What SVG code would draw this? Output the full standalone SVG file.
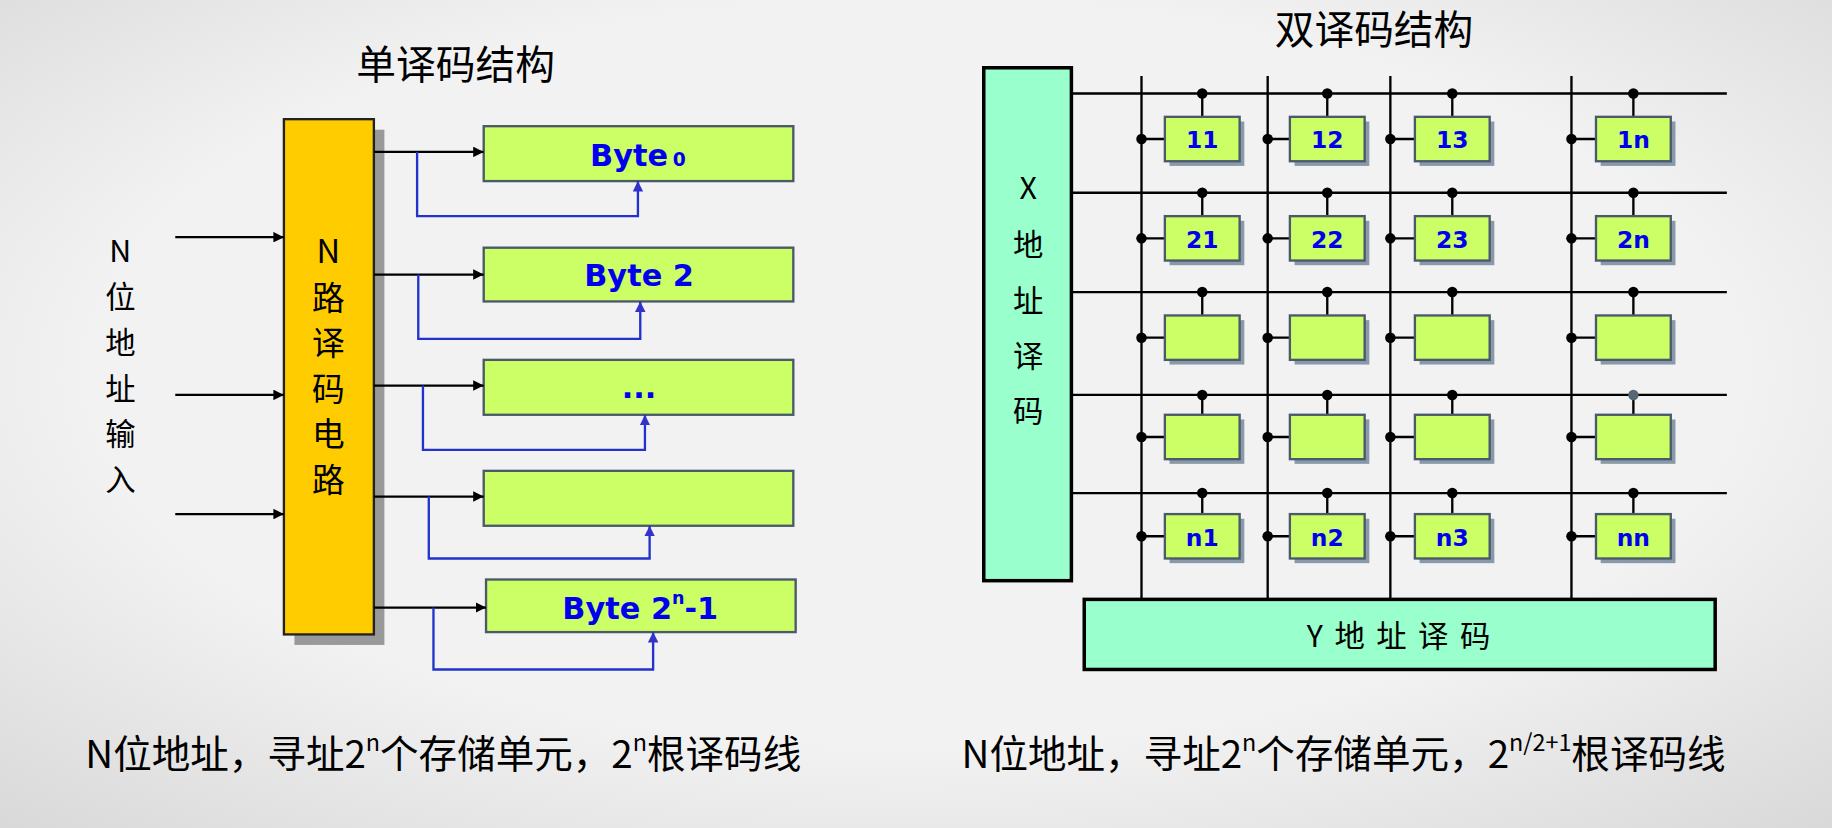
<svg xmlns="http://www.w3.org/2000/svg" width="1832" height="828" viewBox="0 0 1832 828">
<defs>
<radialGradient id="bg" cx="0.5" cy="0.45" r="0.75"><stop offset="0.6" stop-color="#f2f2f2"/><stop offset="1" stop-color="#d8d8d8"/></radialGradient>
<marker id="ab" viewBox="0 0 10 10" refX="10" refY="5" markerWidth="9" markerHeight="9" markerUnits="userSpaceOnUse" orient="auto"><path d="M0,0L10,5L0,10z" fill="#000"/></marker>
<marker id="au" viewBox="0 0 10 10" refX="10" refY="5" markerWidth="9" markerHeight="9" markerUnits="userSpaceOnUse" orient="auto"><path d="M0,0L10,5L0,10z" fill="#3333cc"/></marker>
<style>
.t{font-family:"Noto Sans CJK SC","Liberation Sans",sans-serif;fill:#000}
.b{font-family:"DejaVu Sans","Liberation Sans",sans-serif;font-weight:bold;fill:#0000ee;text-anchor:middle}
.byte{fill:#ccff66;stroke:#4a5a6a;stroke-width:2}
.cell{fill:#ccff66;stroke:#4a5a6a;stroke-width:2}
.sh{fill:#8899aa}
.k{stroke:#000;stroke-width:2;fill:none}
.bl{stroke:#2233cc;stroke-width:2;fill:none}
</style>
</defs>
<rect width="1832" height="828" fill="url(#bg)"/>
<g transform="scale(1.16837)">
<text class="t" x="390" y="68" font-size="34" text-anchor="middle">单译码结构</text>
<text class="t" x="1176" y="38" font-size="34" text-anchor="middle">双译码结构</text>
<g id="input-label" class="t" font-size="26" text-anchor="middle">
<text x="103" y="224">N</text><text x="103" y="264">位</text><text x="103" y="303">地</text><text x="103" y="342">址</text><text x="103" y="381">输</text><text x="103" y="420">入</text>
</g>
<g id="ndecoder">
<rect x="252" y="111" width="77" height="441" fill="#999"/>
<rect x="243" y="102" width="77" height="441" fill="#ffcc00" stroke="#222" stroke-width="2"/>
<g class="t" font-size="28" text-anchor="middle"><text x="281" y="225">N</text><text x="281" y="265">路</text><text x="281" y="304">译</text><text x="281" y="343">码</text><text x="281" y="382">电</text><text x="281" y="421">路</text></g>
</g>
<g id="bytes">
<rect class="byte" x="414" y="108" width="265" height="47"/>
<text class="b" x="546" y="142" font-size="26">Byte<tspan font-size="16" dx="4">0</tspan></text>
<rect class="byte" x="414" y="212" width="265" height="46"/>
<text class="b" x="547" y="245" font-size="26">Byte 2</text>
<rect class="byte" x="414" y="308" width="265" height="47"/>
<text class="b" x="547" y="341" font-size="26">...</text>
<rect class="byte" x="414" y="403" width="265" height="47"/>
<rect class="byte" x="416" y="496" width="265" height="45"/>
<text class="b" x="548" y="530" font-size="26">Byte 2<tspan font-size="15" dy="-13">n</tspan><tspan dy="13">-1</tspan></text>
</g>
<g id="connectors-left">
<path class="k" marker-end="url(#ab)" d="M150,203H243"/>
<path class="k" marker-end="url(#ab)" d="M150,338H243"/>
<path class="k" marker-end="url(#ab)" d="M150,440H243"/>
<path class="k" marker-end="url(#ab)" d="M320,130H414"/>
<path class="k" marker-end="url(#ab)" d="M320,235H414"/>
<path class="k" marker-end="url(#ab)" d="M320,330H414"/>
<path class="k" marker-end="url(#ab)" d="M320,425H414"/>
<path class="k" marker-end="url(#ab)" d="M320,520H416"/>
<path class="bl" marker-end="url(#au)" d="M357,130V185H546V155"/>
<path class="bl" marker-end="url(#au)" d="M358,235V290H548V258"/>
<path class="bl" marker-end="url(#au)" d="M362,330V385H552V355"/>
<path class="bl" marker-end="url(#au)" d="M367,425V478H556V450"/>
<path class="bl" marker-end="url(#au)" d="M371,520V573H559V541"/>
</g>
<g id="xdecoder">
<rect x="842" y="58" width="75" height="439" fill="#99ffcc" stroke="#000" stroke-width="3"/>
<g class="t" font-size="26" text-anchor="middle"><text x="880" y="170">X</text><text x="880" y="219">地</text><text x="880" y="267">址</text><text x="880" y="314">译</text><text x="880" y="361">码</text></g>
</g>
<g id="ydecoder">
<rect x="928" y="513" width="540" height="60" fill="#99ffcc" stroke="#000" stroke-width="3"/>
<text class="t" x="1198" y="554" font-size="26" text-anchor="middle" letter-spacing="2">Y 地 址 译 码</text>
</g>
<g id="grid-lines" class="k">
<path d="M917,80H1478M917,165H1478M917,250H1478M917,338H1478M917,422H1478"/>
<path d="M977,65V513M1085,65V513M1190,65V513M1345,65V513"/>
</g>
<g id="cells">
<g class="k">
<path d="M1029,80V100M1136,80V100M1243,80V100M1398,80V100"/>
<path d="M1029,165V185M1136,165V185M1243,165V185M1398,165V185"/>
<path d="M1029,250V270M1136,250V270M1243,250V270M1398,250V270"/>
<path d="M1029,338V355M1136,338V355M1243,338V355M1398,338V355"/>
<path d="M1029,422V440M1136,422V440M1243,422V440M1398,422V440"/>
<path d="M977,119H997M1085,119H1104M1190,119H1211M1345,119H1366"/>
<path d="M977,204H997M1085,204H1104M1190,204H1211M1345,204H1366"/>
<path d="M977,289H997M1085,289H1104M1190,289H1211M1345,289H1366"/>
<path d="M977,374H997M1085,374H1104M1190,374H1211M1345,374H1366"/>
<path d="M977,459H997M1085,459H1104M1190,459H1211M1345,459H1366"/>
</g>
<g fill="#000">
<circle cx="1029" cy="80" r="4.5"/><circle cx="1136" cy="80" r="4.5"/><circle cx="1243" cy="80" r="4.5"/><circle cx="1398" cy="80" r="4.5"/>
<circle cx="1029" cy="165" r="4.5"/><circle cx="1136" cy="165" r="4.5"/><circle cx="1243" cy="165" r="4.5"/><circle cx="1398" cy="165" r="4.5"/>
<circle cx="1029" cy="250" r="4.5"/><circle cx="1136" cy="250" r="4.5"/><circle cx="1243" cy="250" r="4.5"/><circle cx="1398" cy="250" r="4.5"/>
<circle cx="1029" cy="338" r="4.5"/><circle cx="1136" cy="338" r="4.5"/><circle cx="1243" cy="338" r="4.5"/><circle cx="1398" cy="338" r="4.5" fill="#556677"/>
<circle cx="1029" cy="422" r="4.5"/><circle cx="1136" cy="422" r="4.5"/><circle cx="1243" cy="422" r="4.5"/><circle cx="1398" cy="422" r="4.5"/>
<circle cx="977" cy="119" r="4.5"/><circle cx="1085" cy="119" r="4.5"/><circle cx="1190" cy="119" r="4.5"/><circle cx="1345" cy="119" r="4.5"/>
<circle cx="977" cy="204" r="4.5"/><circle cx="1085" cy="204" r="4.5"/><circle cx="1190" cy="204" r="4.5"/><circle cx="1345" cy="204" r="4.5"/>
<circle cx="977" cy="289" r="4.5"/><circle cx="1085" cy="289" r="4.5"/><circle cx="1190" cy="289" r="4.5"/><circle cx="1345" cy="289" r="4.5"/>
<circle cx="977" cy="374" r="4.5"/><circle cx="1085" cy="374" r="4.5"/><circle cx="1190" cy="374" r="4.5"/><circle cx="1345" cy="374" r="4.5"/>
<circle cx="977" cy="459" r="4.5"/><circle cx="1085" cy="459" r="4.5"/><circle cx="1190" cy="459" r="4.5"/><circle cx="1345" cy="459" r="4.5"/>
</g>
<g class="sh">
<rect x="1001" y="104" width="64" height="38"/><rect x="1108" y="104" width="64" height="38"/><rect x="1215" y="104" width="64" height="38"/><rect x="1370" y="104" width="64" height="38"/>
<rect x="1001" y="189" width="64" height="38"/><rect x="1108" y="189" width="64" height="38"/><rect x="1215" y="189" width="64" height="38"/><rect x="1370" y="189" width="64" height="38"/>
<rect x="1001" y="274" width="64" height="38"/><rect x="1108" y="274" width="64" height="38"/><rect x="1215" y="274" width="64" height="38"/><rect x="1370" y="274" width="64" height="38"/>
<rect x="1001" y="359" width="64" height="38"/><rect x="1108" y="359" width="64" height="38"/><rect x="1215" y="359" width="64" height="38"/><rect x="1370" y="359" width="64" height="38"/>
<rect x="1001" y="444" width="64" height="38"/><rect x="1108" y="444" width="64" height="38"/><rect x="1215" y="444" width="64" height="38"/><rect x="1370" y="444" width="64" height="38"/>
</g>
<g>
<rect class="cell" x="997" y="100" width="64" height="38"/><rect class="cell" x="1104" y="100" width="64" height="38"/><rect class="cell" x="1211" y="100" width="64" height="38"/><rect class="cell" x="1366" y="100" width="64" height="38"/>
<rect class="cell" x="997" y="185" width="64" height="38"/><rect class="cell" x="1104" y="185" width="64" height="38"/><rect class="cell" x="1211" y="185" width="64" height="38"/><rect class="cell" x="1366" y="185" width="64" height="38"/>
<rect class="cell" x="997" y="270" width="64" height="38"/><rect class="cell" x="1104" y="270" width="64" height="38"/><rect class="cell" x="1211" y="270" width="64" height="38"/><rect class="cell" x="1366" y="270" width="64" height="38"/>
<rect class="cell" x="997" y="355" width="64" height="38"/><rect class="cell" x="1104" y="355" width="64" height="38"/><rect class="cell" x="1211" y="355" width="64" height="38"/><rect class="cell" x="1366" y="355" width="64" height="38"/>
<rect class="cell" x="997" y="440" width="64" height="38"/><rect class="cell" x="1104" y="440" width="64" height="38"/><rect class="cell" x="1211" y="440" width="64" height="38"/><rect class="cell" x="1366" y="440" width="64" height="38"/>
</g>
<g class="b" font-size="20">
<text x="1029" y="127">11</text><text x="1136" y="127">12</text><text x="1243" y="127">13</text><text x="1398" y="127">1n</text>
<text x="1029" y="212">21</text><text x="1136" y="212">22</text><text x="1243" y="212">23</text><text x="1398" y="212">2n</text>
<text x="1029" y="467">n1</text><text x="1136" y="467">n2</text><text x="1243" y="467">n3</text><text x="1398" y="467">nn</text>
</g>
</g>
<text class="t" x="73" y="657" font-size="33">N位地址，寻址2<tspan font-size="20" dy="-14">n</tspan><tspan dy="14">个存储单元，2</tspan><tspan font-size="20" dy="-14">n</tspan><tspan dy="14">根译码线</tspan></text>
<text class="t" x="823" y="657" font-size="33">N位地址，寻址2<tspan font-size="20" dy="-14">n</tspan><tspan dy="14">个存储单元，2</tspan><tspan font-size="20" dy="-14">n/2+1</tspan><tspan dy="14">根译码线</tspan></text>
</g>
</svg>
